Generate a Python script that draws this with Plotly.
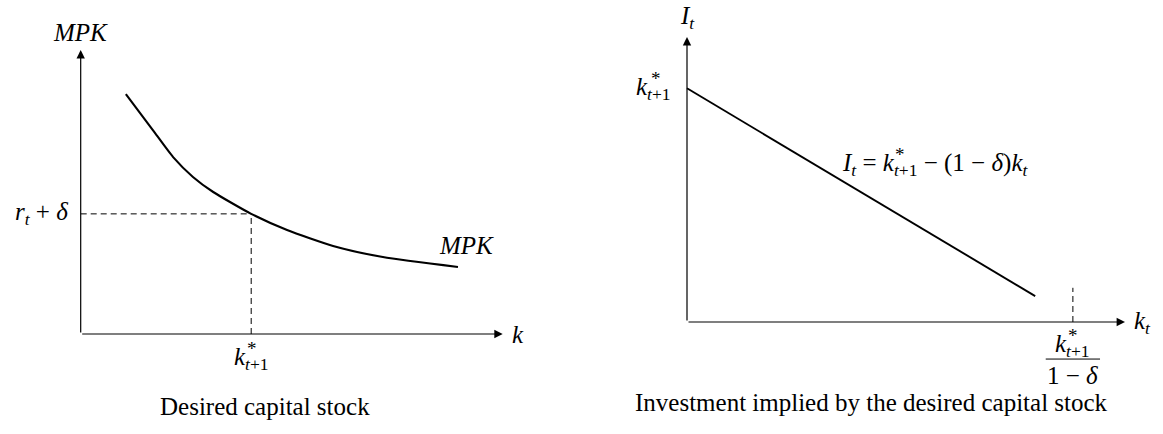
import plotly.graph_objects as go

# ---------------- data ----------------
# Left panel: MPK curve (k, MPK) in chart units
mpk_k = [1.07, 1.71, 2.19, 2.66, 3.14, 4.04, 4.89, 5.98, 7.16, 8.94]
mpk_v = [8.45, 7.18, 6.23, 5.53, 5.00, 4.23, 3.66, 3.10, 2.71, 2.36]
k_star = 4.04          # desired capital stock
r_delta = 4.23         # r_t + delta
left_axis_max = [10.0, 10.0]   # k axis end, MPK axis end

# Right panel: investment line (k_t, I_t)
inv_k = [0.0, 7.95]
inv_I = [8.2, 0.91]
k_intercept = 8.81     # k*_{t+1}/(1-delta)
k_intercept_tick = 1.2
right_axis_max = [10.0, 10.0]

# ---------------- layout helpers ----------------
W, H = 1163, 434
FONT = "Liberation Serif"
FS = 25
TFS = 25

# pixel mapping of each panel: origin pixel and pixels per unit
L = dict(x0=80.7, y0=334.0, sx=42.2, sy=28.4, px0=0.0, px1=W / 2)
R = dict(x0=687.0, y0=322.0, sx=43.8, sy=28.5, px0=W / 2, px1=W)


def rng(p):
    xr = [(p["px0"] - p["x0"]) / p["sx"], (p["px1"] - p["x0"]) / p["sx"]]
    yr = [(p["y0"] - H) / p["sy"], p["y0"] / p["sy"]]
    return xr, yr


fig = go.Figure()

dash = dict(color="black", width=1, dash="6px,4px")
fig.add_trace(go.Scatter(x=mpk_k, y=mpk_v, mode="lines",
                         line=dict(color="black", width=2.1, shape="spline", smoothing=0.6),
                         xaxis="x", yaxis="y", hoverinfo="skip"))
fig.add_trace(go.Scatter(x=[0, k_star], y=[r_delta, r_delta], mode="lines", line=dash,
                         xaxis="x", yaxis="y", hoverinfo="skip"))
fig.add_trace(go.Scatter(x=[k_star, k_star], y=[0, r_delta], mode="lines", line=dash,
                         xaxis="x", yaxis="y", hoverinfo="skip"))

fig.add_trace(go.Scatter(x=inv_k, y=inv_I, mode="lines", line=dict(color="black", width=1.9),
                         xaxis="x2", yaxis="y2", hoverinfo="skip"))
fig.add_trace(go.Scatter(x=[k_intercept, k_intercept], y=[0, k_intercept_tick], mode="lines", line=dash,
                         xaxis="x2", yaxis="y2", hoverinfo="skip"))

ann = []


def axis_arrow(xref, yref, x, y):
    ann.append(dict(x=x, y=y, ax=0, ay=0, xref=xref, yref=yref, axref=xref, ayref=yref,
                    text="", showarrow=True, arrowhead=2, arrowsize=1.4, arrowwidth=1.2,
                    arrowcolor="black", standoff=0))


def label(xref, yref, x, y, text, xanchor="center", yanchor="middle", size=FS, xshift=0, yshift=0):
    ann.append(dict(x=x, y=y, xref=xref, yref=yref, text=text, showarrow=False,
                    xanchor=xanchor, yanchor=yanchor, xshift=xshift, yshift=yshift,
                    font=dict(family=FONT, size=size, color="black")))


def kstar(xref, yref, x, y, xanchor="center", xshift=0, yshift=0):
    # k_{t+1} with a star stacked above the subscript
    label(xref, yref, x, y, "<i>k</i><sub><i>t</i>+1</sub>", xanchor=xanchor, xshift=xshift, yshift=yshift)
    w = 35.0
    left = {"center": -w / 2, "right": -w, "left": 0}[xanchor]
    label(xref, yref, x, y, "*", xanchor="left", size=19, xshift=xshift + left + 11, yshift=yshift + 10)


# left panel
axis_arrow("x", "y", left_axis_max[0], 0)
axis_arrow("x", "y", 0, left_axis_max[1])
label("x", "y", 0, 10.63, "<i>MPK</i>")
label("x", "y", -0.25, r_delta, "<i>r</i><sub><i>t</i></sub> + <i>δ</i>", xanchor="right")
kstar("x", "y", k_star, -0.85)
label("x", "y", 10.36, 0, "<i>k</i>")
label("x", "y", 9.15, 3.13, "<i>MPK</i>")
label("x", "y", 4.37, -2.57, "Desired capital stock", size=TFS)

# right panel
axis_arrow("x2", "y2", right_axis_max[0], 0)
axis_arrow("x2", "y2", 0, right_axis_max[1])
label("x2", "y2", 0, 10.67, "<i>I</i><sub><i>t</i></sub>")
kstar("x2", "y2", -0.32, inv_I[0], xanchor="right")
label("x2", "y2", 3.49, 5.51,
      "<i>I</i><sub><i>t</i></sub> = <i>k</i><sub><i>t</i>+1</sub> − (1 − <i>δ</i>)<i>k</i><sub><i>t</i></sub>",
      xanchor="left")
label("x2", "y2", 3.49, 5.51, "*", xanchor="left", size=19, xshift=53, yshift=10)
label("x2", "y2", 10.41, 0, "<i>k</i><sub><i>t</i></sub>")
kstar("x2", "y2", k_intercept, -0.81)
label("x2", "y2", k_intercept, -1.88, "1 − <i>δ</i>")
label("x2", "y2", 4.22, -2.84, "Investment implied by the desired capital stock", size=TFS)

shapes = [dict(type="line", xref="x2", yref="y2", x0=k_intercept - 0.62, x1=k_intercept + 0.62,
               y0=-1.3, y1=-1.3, line=dict(color="black", width=1))]

lx, ly = rng(L)
rx, ry = rng(R)
hidden = dict(visible=False, fixedrange=True)
fig.update_layout(
    width=W, height=H, margin=dict(l=0, r=0, t=0, b=0),
    paper_bgcolor="white", plot_bgcolor="white", showlegend=False,
    xaxis=dict(domain=[0, 0.5], range=lx, **hidden),
    yaxis=dict(domain=[0, 1], range=ly, **hidden),
    xaxis2=dict(domain=[0.5, 1], range=rx, anchor="y2", **hidden),
    yaxis2=dict(domain=[0, 1], range=ry, anchor="x2", **hidden),
    annotations=ann, shapes=shapes,
)
fig.write_html("out.html", config={"displayModeBar": False},
               post_script="document.body.style.margin='0px';")
